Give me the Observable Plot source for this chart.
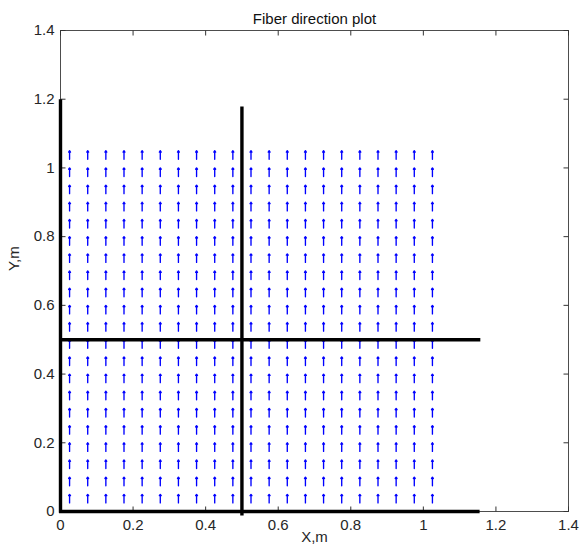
<!DOCTYPE html>
<html>
<head>
<meta charset="utf-8">
<script src="https://cdn.jsdelivr.net/npm/d3@7"></script>
<script src="https://cdn.jsdelivr.net/npm/@observablehq/plot@0.6"></script>
<style>
  html, body { margin: 0; padding: 0; background: #fff; }
  #chart { width: 579px; height: 553px; }
</style>
</head>
<body>
<div id="chart"></div>
<script>
// ---- data ----
const titleText = "Fiber direction plot";
const xLabel = "X,m";
const yLabel = "Y,m";

const xTicks = [0, 0.2, 0.4, 0.6, 0.8, 1.0, 1.2, 1.4];
const xTickLabels = ["0", "0.2", "0.4", "0.6", "0.8", "1", "1.2", "1.4"];
const yTicks = [0, 0.2, 0.4, 0.6, 0.8, 1.0, 1.2, 1.4];
const yTickLabels = ["0", "0.2", "0.4", "0.6", "0.8", "1", "1.2", "1.4"];

// quiver grid positions (arrow base points)
const gridX = [0.025, 0.075, 0.125, 0.175, 0.225, 0.275, 0.325, 0.375, 0.425, 0.475, 0.525,
               0.575, 0.625, 0.675, 0.725, 0.775, 0.825, 0.875, 0.925, 0.975, 1.025];
const gridY = [0.025, 0.075, 0.125, 0.175, 0.225, 0.275, 0.325, 0.375, 0.425, 0.475, 0.525,
               0.575, 0.625, 0.675, 0.725, 0.775, 0.825, 0.875, 0.925, 0.975, 1.025];
// fiber direction components (all vertical) and drawn arrow length in data units
const fiberU = 0;
const fiberV = 1;
const arrowLen = 0.025;

// boundary / partition lines (thick black)
const wallX1 = [-0.004, 0, 0.5, 0];
const wallY1 = [0, -0.004, -0.012, 0.5];
const wallX2 = [1.155, 0, 0.5, 1.157];
const wallY2 = [0, 1.2, 1.179, 0.5];

// ---- build tables ----
const arrows = [];
for (const y of gridY) for (const x of gridX) {
  arrows.push({x1: x, y1: y, x2: x + fiberU * arrowLen, y2: y + fiberV * arrowLen});
}
const walls = wallX1.map((_, i) => ({x1: wallX1[i], y1: wallY1[i], x2: wallX2[i], y2: wallY2[i]}));

const W = 579, H = 553;
const mL = 60, mR = 11, mT = 30, mB = 42;
const xDom = [0, 1.4], yDom = [0, 1.4];
const tickPx = 5;
const tickDX = tickPx * (xDom[1] - xDom[0]) / (W - mL - mR);
const tickDY = tickPx * (yDom[1] - yDom[0]) / (H - mT - mB);

const font = "'Liberation Sans', Arial, Helvetica, sans-serif";
const inkColor = "#262626";

const chart = Plot.plot({
  width: W,
  height: H,
  marginLeft: mL,
  marginRight: mR,
  marginTop: mT,
  marginBottom: mB,
  style: {fontFamily: font, fontSize: "15px", background: "#fff", color: inkColor},
  x: {domain: xDom},
  y: {domain: yDom},
  marks: [
    Plot.frame({stroke: "#4d4d4d", strokeWidth: 1}),
    // inward ticks: bottom & top
    Plot.link(xTicks, {x1: d => d, x2: d => d, y1: yDom[0], y2: yDom[0] + tickDY, stroke: "#333", strokeWidth: 1}),
    Plot.link(xTicks, {x1: d => d, x2: d => d, y1: yDom[1], y2: yDom[1] - tickDY, stroke: "#333", strokeWidth: 1}),
    // inward ticks: left & right
    Plot.link(yTicks, {y1: d => d, y2: d => d, x1: xDom[0], x2: xDom[0] + tickDX, stroke: "#333", strokeWidth: 1}),
    Plot.link(yTicks, {y1: d => d, y2: d => d, x1: xDom[1], x2: xDom[1] - tickDX, stroke: "#333", strokeWidth: 1}),
    Plot.axisX({ticks: xTicks, tickSize: 0, tickPadding: 8, fontSize: 15, label: null,
      tickFormat: d => xTickLabels[xTicks.indexOf(d)], fill: inkColor}),
    Plot.axisY({ticks: yTicks, tickSize: 0, tickPadding: 6, fontSize: 15, label: null,
      tickFormat: d => yTickLabels[yTicks.indexOf(d)], fill: inkColor}),
    // quiver arrows
    Plot.arrow(arrows, {x1: "x1", y1: "y1", x2: "x2", y2: "y2", stroke: "#0000ff",
      strokeWidth: 1.35, headLength: 1.8, headAngle: 70}),
    // thick black lines
    Plot.link(walls, {x1: "x1", y1: "y1", x2: "x2", y2: "y2", stroke: "#000", strokeWidth: 3.4, strokeLinecap: "butt"}),
    // title and axis labels
    Plot.text([titleText], {text: d => d, frameAnchor: "top", dy: -17, fontSize: 15, fill: "#111"}),
    Plot.text([xLabel], {text: d => d, frameAnchor: "bottom", dy: 30, fontSize: 15, fill: inkColor}),
    Plot.text([yLabel], {text: d => d, frameAnchor: "left", dx: -46, rotate: -90, fontSize: 15, fill: inkColor})
  ]
});
document.getElementById("chart").appendChild(chart);
</script>
</body>
</html>
